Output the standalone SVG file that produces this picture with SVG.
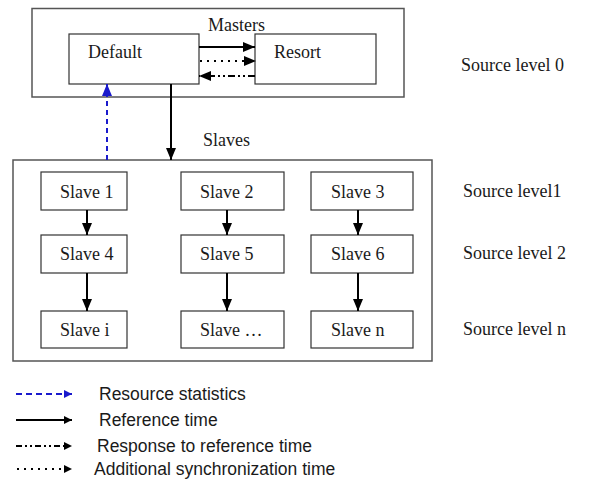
<svg xmlns="http://www.w3.org/2000/svg" width="590" height="487" viewBox="0 0 590 487">
<defs>
<marker id="ah" viewBox="0 0 12 10" refX="12" refY="5" markerWidth="12" markerHeight="10" markerUnits="userSpaceOnUse" orient="auto">
<path d="M0,0 L12,5 L0,10 z" fill="#000"/>
</marker>
<marker id="ahb" viewBox="0 0 12 10" refX="12" refY="5" markerWidth="12" markerHeight="10" markerUnits="userSpaceOnUse" orient="auto">
<path d="M0,0 L12,5 L0,10 z" fill="#1a1acc"/>
</marker>
<marker id="ahs" viewBox="0 0 10 10" refX="10" refY="5" markerWidth="9" markerHeight="8" markerUnits="userSpaceOnUse" orient="auto">
<path d="M0,0 L10,5 L0,10 z" fill="#000"/>
</marker>
<marker id="ahsb" viewBox="0 0 10 10" refX="10" refY="5" markerWidth="9" markerHeight="8" markerUnits="userSpaceOnUse" orient="auto">
<path d="M0,0 L10,5 L0,10 z" fill="#1a1acc"/>
</marker>
</defs>
<style>
.frame{fill:#fff;stroke:#555;stroke-width:1.5}
.box{fill:#fff;stroke:#333;stroke-width:1.2}
.t{font-family:"Liberation Serif","Times New Roman",serif;font-size:18px;fill:#1a1a1a}
.s{font-family:"Liberation Sans",Arial,sans-serif;font-size:17.5px;fill:#1a1a1a}
.solid{stroke:#000;stroke-width:2;fill:none;marker-end:url(#ah)}
.dot{stroke:#000;stroke-width:2;fill:none;stroke-dasharray:2 5;marker-end:url(#ah)}
.dd{stroke:#000;stroke-width:2;fill:none;stroke-dasharray:7 3 2 3 2 3;marker-end:url(#ah)}
.blue{stroke:#1a1acc;stroke-width:2;fill:none;stroke-dasharray:5 4;marker-end:url(#ahb)}
.lsolid{stroke:#000;stroke-width:1.8;fill:none;marker-end:url(#ahs)}
.ldot{stroke:#000;stroke-width:1.8;fill:none;stroke-dasharray:2 5;marker-end:url(#ahs)}
.ldd{stroke:#000;stroke-width:1.8;fill:none;stroke-dasharray:6 3 2 3 2 3;marker-end:url(#ahs)}
.lblue{stroke:#1a1acc;stroke-width:1.8;fill:none;stroke-dasharray:6 4;marker-end:url(#ahsb)}
</style>
<rect width="590" height="487" fill="#fff"/>
<g id="masters">
<rect class="frame" x="32" y="8.5" width="372" height="88.5"/>
<text class="t" x="208" y="31">Masters</text>
</g>
<g id="default">
<rect class="box" x="69" y="34" width="130" height="50"/>
<text class="t" x="88" y="58">Default</text>
</g>
<g id="resort">
<rect class="box" x="255" y="34" width="121" height="50"/>
<text class="t" x="274" y="58">Resort</text>
</g>
<text class="t" x="461" y="71">Source level 0</text>
<text class="t" x="203" y="146">Slaves</text>
<g id="slaves">
<rect class="frame" x="13" y="160" width="419" height="201"/>
</g>
<g id="slave1"><rect class="box" x="41" y="172" width="86" height="38"/><text class="t" x="60" y="198">Slave 1</text></g>
<g id="slave2"><rect class="box" x="181" y="172" width="103" height="38"/><text class="t" x="200" y="198">Slave 2</text></g>
<g id="slave3"><rect class="box" x="311" y="172" width="102" height="38"/><text class="t" x="331" y="198">Slave 3</text></g>
<g id="slave4"><rect class="box" x="41" y="235" width="86" height="38"/><text class="t" x="60" y="260">Slave 4</text></g>
<g id="slave5"><rect class="box" x="181" y="235" width="103" height="38"/><text class="t" x="200" y="260">Slave 5</text></g>
<g id="slave6"><rect class="box" x="311" y="235" width="102" height="38"/><text class="t" x="331" y="260">Slave 6</text></g>
<g id="slavei"><rect class="box" x="41" y="311" width="86" height="37"/><text class="t" x="60" y="336">Slave i</text></g>
<g id="slavedots"><rect class="box" x="181" y="311" width="103" height="37"/><text class="t" x="200" y="336">Slave …</text></g>
<g id="slaven"><rect class="box" x="311" y="311" width="102" height="37"/><text class="t" x="331" y="336">Slave n</text></g>
<text class="t" x="463" y="197">Source level1</text>
<text class="t" x="463" y="259">Source level 2</text>
<text class="t" x="463" y="335">Source level n</text>
<g id="connectors">
<line class="solid" x1="199" y1="47" x2="255" y2="47"/>
<line class="dot" x1="200" y1="61" x2="256" y2="61"/>
<line class="dd" x1="255" y1="76" x2="199" y2="76"/>
<line class="solid" x1="171" y1="84" x2="171" y2="160"/>
<line class="blue" x1="107" y1="160" x2="107" y2="84"/>
<line class="solid" x1="87" y1="210" x2="87" y2="235"/>
<line class="solid" x1="227" y1="210" x2="227" y2="235"/>
<line class="solid" x1="358" y1="210" x2="358" y2="235"/>
<line class="solid" x1="87" y1="273" x2="87" y2="311"/>
<line class="solid" x1="227" y1="273" x2="227" y2="311"/>
<line class="solid" x1="358" y1="273" x2="358" y2="311"/>
</g>
<g id="legend">
<line class="lblue" x1="16" y1="394" x2="72" y2="394"/>
<text class="s" x="99" y="400">Resource statistics</text>
<line class="lsolid" x1="16" y1="420" x2="72" y2="420"/>
<text class="s" x="99" y="426">Reference time</text>
<line class="ldd" x1="16" y1="446" x2="72" y2="446"/>
<text class="s" x="97" y="452">Response to reference time</text>
<line class="ldot" x1="17" y1="469" x2="72" y2="469"/>
<text class="s" x="94" y="475">Additional synchronization time</text>
</g>
</svg>
